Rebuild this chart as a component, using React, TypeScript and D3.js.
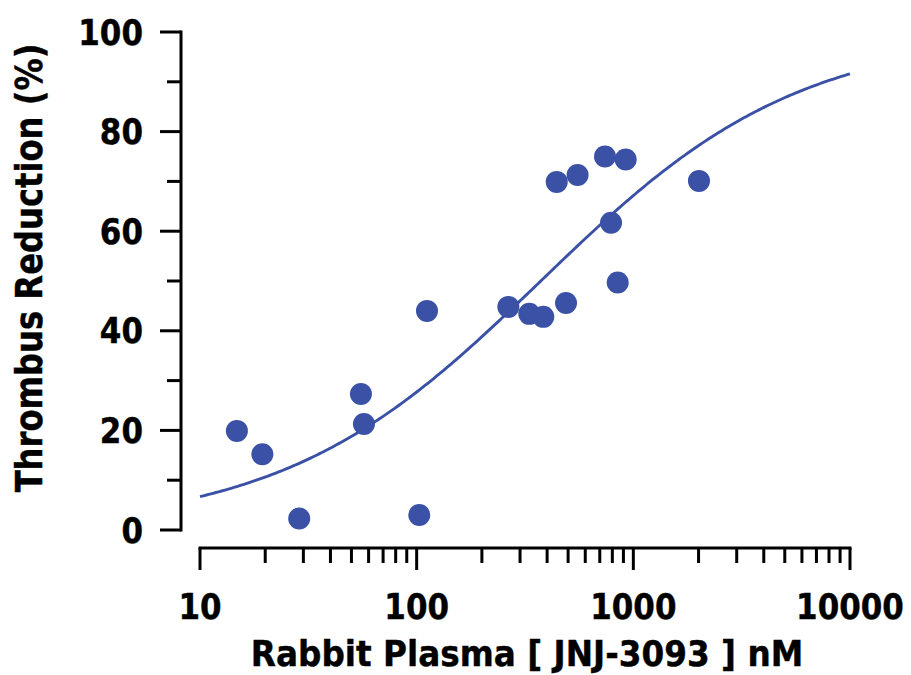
import React from "react";
import * as d3 from "d3";

const concentrations = [14.8, 19.4, 28.7, 55.3, 57.1, 102.8, 111.6, 265, 331, 384, 489, 443, 553, 740, 922, 789, 847, 2009];
const reductions = [19.9, 15.2, 2.3, 27.3, 21.3, 3.0, 44.0, 44.8, 43.4, 42.8, 45.6, 69.9, 71.3, 75.0, 74.4, 61.7, 49.7, 70.1];

const xMajorTicks = [10, 100, 1000, 10000];
const xTickLabels = ["10", "100", "1000", "10000"];
const xMinorTicks = [20, 30, 40, 50, 60, 70, 80, 90, 200, 300, 400, 500, 600, 700, 800, 900, 2000, 3000, 4000, 5000, 6000, 7000, 8000, 9000];
const yMajorTicks = [0, 20, 40, 60, 80, 100];
const yMinorTicks = [10, 30, 50, 70, 90];

// fitted sigmoid parameters
const FIT_BOTTOM = 0;
const FIT_TOP = 100;
const FIT_EC50 = 374;
const FIT_HILL = 0.727;

const BLUE = "#3a51a6";
const FONT = "'DejaVu Sans', Verdana, sans-serif";

function TallText(props: {
  x: number;
  y: number;
  size: number;
  sy: number;
  anchor: string;
  rotate?: number;
  children: React.ReactNode;
}) {
  const { x, y, size, sy, anchor, rotate = 0, children } = props;
  return (
    <text
      transform={`translate(${x},${y}) rotate(${rotate}) scale(1,${sy})`}
      textAnchor={anchor}
      fontSize={size}
      fontWeight="bold"
      fill="#000"
      stroke="#000"
      strokeWidth={0.4}
    >
      {children}
    </text>
  );
}

export default function App() {
  const x = d3.scaleLog().domain([10, 10000]).range([200, 850]);
  const y = d3.scaleLinear().domain([0, 100]).range([530, 32]);

  const fit = (c: number) => FIT_BOTTOM + (FIT_TOP - FIT_BOTTOM) / (1 + Math.pow(FIT_EC50 / c, FIT_HILL));
  const curvePts: [number, number][] = d3.range(0, 301).map((i) => {
    const c = Math.pow(10, 1 + (3 * i) / 300);
    return [c, fit(c)];
  });
  const line = d3
    .line<[number, number]>()
    .x((d) => x(d[0]))
    .y((d) => y(d[1]));

  const yAxisX = 181;
  const xAxisY = 548;
  const tickSize = 31;
  const tickSY = 1.12;
  const capH = 0.73 * tickSize * tickSY;

  return (
    <svg width={911} height={675} style={{ position: "absolute", left: 0, top: 0, background: "#fff" }} fontFamily={FONT}>
      {/* Y axis */}
      <line x1={yAxisX} x2={yAxisX} y1={y(100) - 1.5} y2={y(0) + 1.5} stroke="#000" strokeWidth={3} />
      {yMajorTicks.map((t) => (
        <g key={"ym" + t}>
          <line x1={160} x2={yAxisX} y1={y(t)} y2={y(t)} stroke="#000" strokeWidth={3} />
          <TallText x={143} y={y(t) + capH / 2} size={tickSize} sy={tickSY} anchor="end">
            {t}
          </TallText>
        </g>
      ))}
      {yMinorTicks.map((t) => (
        <line key={"yn" + t} x1={167} x2={yAxisX} y1={y(t)} y2={y(t)} stroke="#000" strokeWidth={3} />
      ))}
      {/* X axis */}
      <line x1={x(10) - 1.5} x2={x(10000) + 1.5} y1={xAxisY} y2={xAxisY} stroke="#000" strokeWidth={3} />
      {xMajorTicks.map((t, i) => (
        <g key={"xm" + t}>
          <line x1={x(t)} x2={x(t)} y1={xAxisY} y2={570} stroke="#000" strokeWidth={3} />
          <TallText x={x(t)} y={619} size={tickSize} sy={tickSY} anchor="middle">
            {xTickLabels[i]}
          </TallText>
        </g>
      ))}
      {xMinorTicks.map((t) => (
        <line key={"xn" + t} x1={x(t)} x2={x(t)} y1={xAxisY} y2={563} stroke="#000" strokeWidth={3} />
      ))}
      {/* Titles */}
      <TallText x={527} y={666} size={32.7} sy={1.1} anchor="middle">
        Rabbit Plasma [ JNJ-3093 ] nM
      </TallText>
      <TallText x={42} y={268} size={32.2} sy={1.15} anchor="middle" rotate={-90}>
        Thrombus Reduction (%)
      </TallText>
      {/* Fit curve */}
      <path d={line(curvePts) || ""} fill="none" stroke={BLUE} strokeWidth={2.9} />
      {/* Points */}
      {concentrations.map((c, i) => (
        <circle key={i} cx={x(c)} cy={y(reductions[i])} r={11} fill={BLUE} />
      ))}
    </svg>
  );
}
